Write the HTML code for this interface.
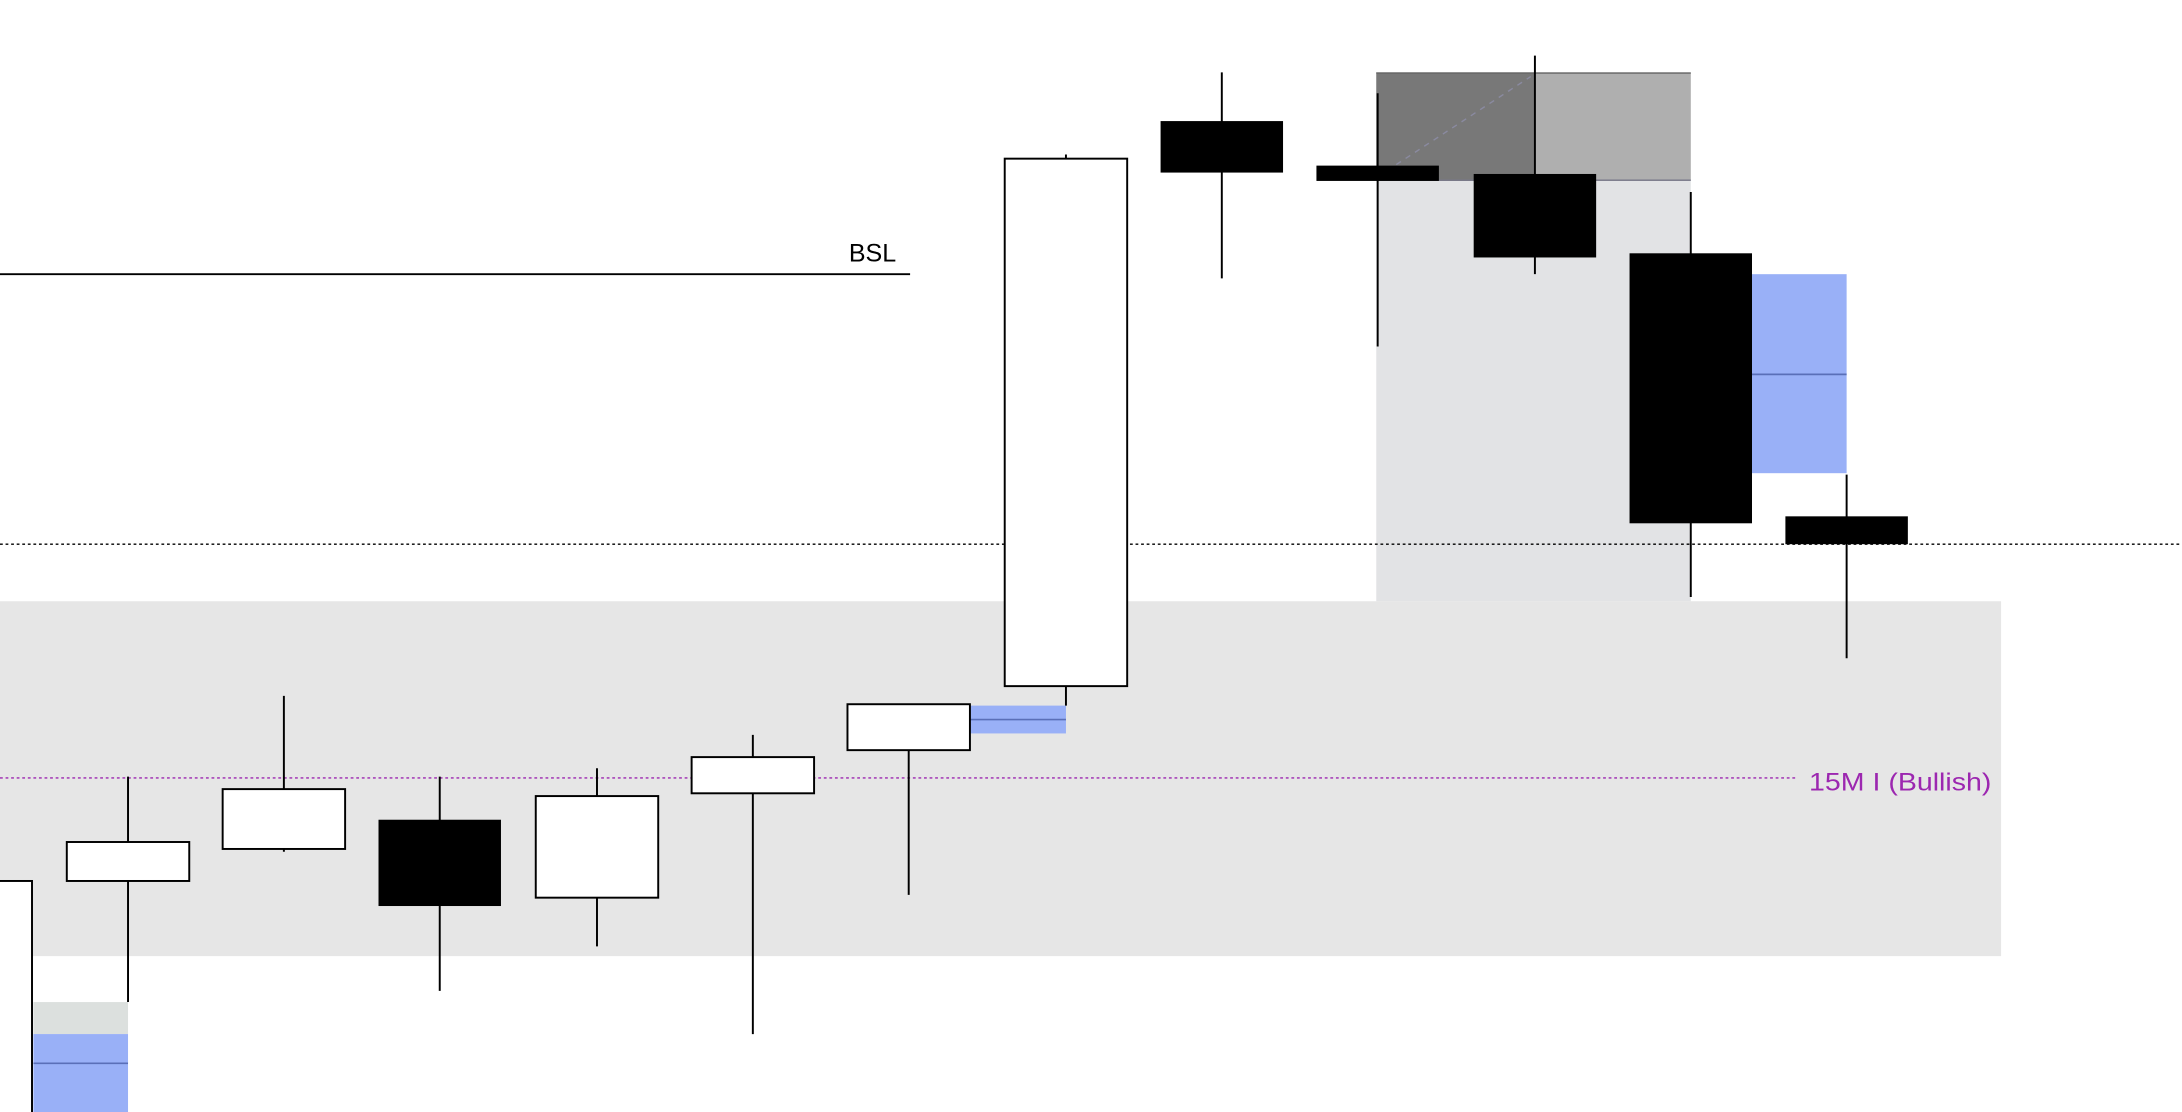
<!DOCTYPE html>
<html><head><style>html,body{margin:0;padding:0;background:#fff;overflow:hidden}svg{display:block}</style></head>
<body>
<svg width="2182" height="1112" viewBox="0 0 1568 799" preserveAspectRatio="none" xmlns="http://www.w3.org/2000/svg" font-family="Liberation Sans, sans-serif">
<rect x="0" y="432" width="1438" height="255" fill="#e6e6e6"/>
<rect x="989" y="52" width="226" height="380" fill="#e2e3e5"/>
<rect x="989" y="52" width="114" height="78" fill="#787878"/>
<rect x="1103" y="52" width="112" height="78" fill="#afafaf"/>
<line x1="989" y1="52.5" x2="1215" y2="52.5" stroke="#666" stroke-width="1"/>
<line x1="989" y1="129.5" x2="1215" y2="129.5" stroke="#777788" stroke-width="1"/>
<line x1="990" y1="127" x2="1100" y2="55" stroke="#8a8aa0" stroke-width="1" stroke-dasharray="4,4"/>
<line x1="0" y1="197" x2="654" y2="197" stroke="#000" stroke-width="1.3"/>
<text x="610" y="188" font-size="18" fill="#000">BSL</text>
<line x1="0" y1="391" x2="1568" y2="391" stroke="#000" stroke-width="1" stroke-dasharray="2,2"/>
<line x1="0" y1="559" x2="1290" y2="559" stroke="#9c27b0" stroke-width="1" stroke-dasharray="2,2"/>
<text x="1300" y="568" font-size="18" fill="#9c27b0" textLength="131" lengthAdjust="spacingAndGlyphs">15M I (Bullish)</text>
<rect x="24" y="720" width="68" height="23" fill="#dce0de"/>
<rect x="24" y="743" width="68" height="56" fill="#99b0f7"/>
<line x1="24" y1="764" x2="92" y2="764" stroke="#5a6fb8" stroke-width="1.2"/>
<rect x="697" y="507" width="69" height="20" fill="#99b0f7"/>
<line x1="697" y1="517" x2="766" y2="517" stroke="#5a6fb8" stroke-width="1.2"/>
<rect x="1259" y="197" width="68" height="143" fill="#99b0f7"/>
<line x1="1259" y1="269" x2="1327" y2="269" stroke="#5a6fb8" stroke-width="1.2"/>
<g stroke="#000" stroke-width="1.4">
<line x1="92" y1="558" x2="92" y2="720"/>
<line x1="204" y1="500" x2="204" y2="612"/>
<line x1="316" y1="558" x2="316" y2="712"/>
<line x1="429" y1="552" x2="429" y2="680"/>
<line x1="541" y1="528" x2="541" y2="743"/>
<line x1="653" y1="539" x2="653" y2="643"/>
<line x1="766" y1="111" x2="766" y2="507"/>
<line x1="878" y1="52" x2="878" y2="200"/>
<line x1="990" y1="67" x2="990" y2="249"/>
<line x1="1103" y1="40" x2="1103" y2="197"/>
<line x1="1215" y1="138" x2="1215" y2="429"/>
<line x1="1327" y1="341" x2="1327" y2="473"/>
</g>
<g stroke="#000" stroke-width="1.4" fill="#fff">
<rect x="-10" y="633" width="33" height="200"/>
<rect x="48" y="605" width="88" height="28"/>
<rect x="160" y="567" width="88" height="43"/>
<rect x="385" y="572" width="88" height="73"/>
<rect x="497" y="544" width="88" height="26"/>
<rect x="609" y="506" width="88" height="33"/>
<rect x="722" y="114" width="88" height="379"/>
</g>
<g fill="#000">
<rect x="272" y="589" width="88" height="62"/>
<rect x="834" y="87" width="88" height="37"/>
<rect x="946" y="119" width="88" height="11"/>
<rect x="1059" y="125" width="88" height="60"/>
<rect x="1171" y="182" width="88" height="194"/>
<rect x="1283" y="371" width="88" height="20"/>
</g>
</svg>
</body></html>
